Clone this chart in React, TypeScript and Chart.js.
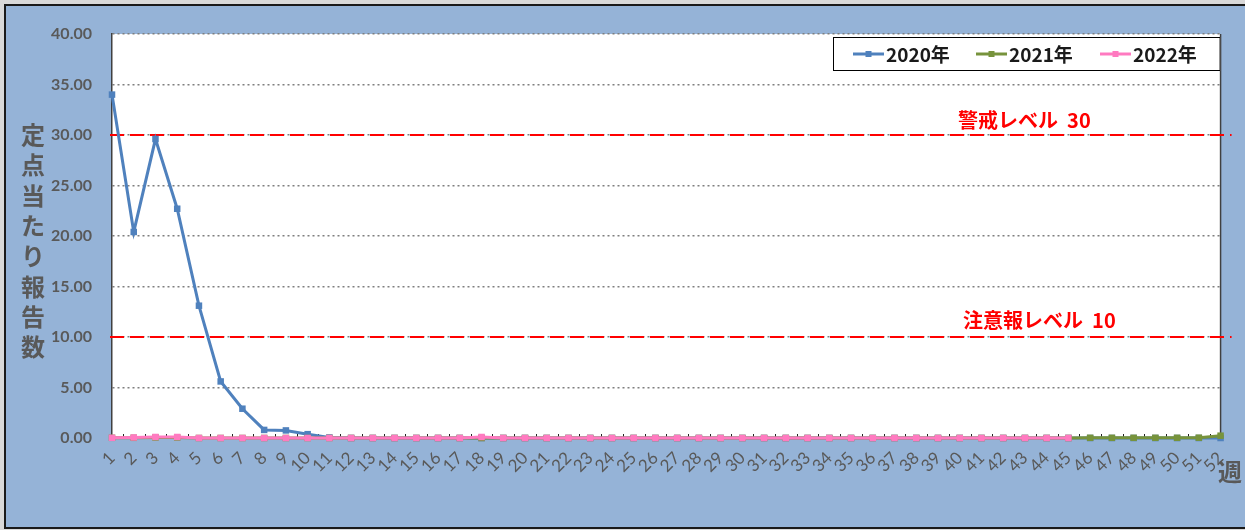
import React, { useEffect, useRef } from 'react';
import { Chart, registerables } from 'chart.js';

Chart.register(...registerables);

const WEEKS = [
  '1', '2', '3', '4', '5', '6', '7', '8', '9', '10', '11', '12', '13',
  '14', '15', '16', '17', '18', '19', '20', '21', '22', '23', '24', '25', '26',
  '27', '28', '29', '30', '31', '32', '33', '34', '35', '36', '37', '38', '39',
  '40', '41', '42', '43', '44', '45', '46', '47', '48', '49', '50', '51', '52',
];

const SERIES_NAMES = ['2020年', '2021年', '2022年'];

const VALUES_2020 = [
  34.0, 20.4, 29.6, 22.7, 13.1, 5.6, 2.9, 0.8, 0.75, 0.38, 0.05, 0, 0,
  0, 0, 0, 0, 0, 0, 0, 0, 0, 0, 0, 0, 0,
  0, 0, 0, 0, 0, 0, 0, 0, 0, 0, 0, 0, 0,
  0, 0, 0, 0, 0, 0, 0, 0, 0, 0, 0, 0, 0,
];

const VALUES_2021 = [
  0.02, 0.02, 0.05, 0.05, 0, 0, 0, 0, 0, 0, 0, 0, 0,
  0, 0, 0, 0, 0, 0, 0, 0, 0, 0, 0, 0, 0,
  0, 0, 0, 0, 0, 0, 0, 0, 0, 0, 0, 0, 0,
  0, 0, 0, 0, 0, 0, 0.02, 0.02, 0.02, 0.02, 0.02, 0.03, 0.23,
];

const VALUES_2022 = [
  0.02, 0.05, 0.1, 0.1, 0, 0, 0, 0, 0, 0, 0, 0, 0,
  0, 0, 0, 0, 0.1, 0, 0, 0, 0, 0, 0, 0, 0,
  0, 0, 0, 0, 0, 0, 0, 0, 0, 0, 0, 0, 0,
  0, 0, 0, 0, 0, 0,
];

const Y_MIN = 0;
const Y_MAX = 40;
const Y_STEP = 5;

const LEVEL_VALUES = [30, 10];
const LEVEL_LABELS = ['警戒レベル  30', '注意報レベル  10'];

const Y_TITLE = '定点当たり報告数';
const X_UNIT = '週';

const COLORS = ['#4F81BD', '#77933C', '#FF7AC0'];
const BG = '#95B3D7';
const GRAY_TEXT = '#595959';
const CJK = '"Noto Sans CJK JP", "Noto Sans", sans-serif';
const LATIN = 'Lato, "Open Sans", sans-serif';

const decorPlugin = {
  id: 'decor',
  beforeDraw(chart: any) {
    const { ctx, chartArea: a, width, height } = chart;
    ctx.save();
    ctx.fillStyle = '#d9d9d9';
    ctx.fillRect(0, 0, width, height);
    ctx.fillStyle = BG;
    ctx.fillRect(5, 5, width - 5, height - 7);
    ctx.strokeStyle = '#1a1a1a';
    ctx.lineWidth = 2;
    ctx.beginPath();
    ctx.moveTo(width, 5);
    ctx.lineTo(5, 5);
    ctx.lineTo(5, height - 2);
    ctx.lineTo(width, height - 2);
    ctx.stroke();
    ctx.fillStyle = '#ffffff';
    ctx.fillRect(a.left, a.top, a.right - a.left, a.bottom - a.top);

    // vertical stacked y title
    ctx.fillStyle = GRAY_TEXT;
    ctx.font = `bold 24px ${CJK}`;
    ctx.textAlign = 'center';
    ctx.textBaseline = 'middle';
    const chars = Array.from(Y_TITLE);
    const startY = 135;
    const stepY = 30.3;
    chars.forEach((c, i) => ctx.fillText(c, 33, startY + i * stepY));

    // x unit
    ctx.font = `bold 24px ${CJK}`;
    ctx.fillText(X_UNIT, 1230, 472);
    ctx.restore();
  },
  beforeDatasetsDraw(chart: any) {
    const { ctx, chartArea: a, scales } = chart;
    const x = scales.x;
    const y = scales.y;
    ctx.save();
    // right border
    ctx.strokeStyle = '#404040';
    ctx.lineWidth = 1.5;
    ctx.beginPath();
    ctx.moveTo(a.right, a.top);
    ctx.lineTo(a.right, a.bottom);
    ctx.stroke();

    // inner tick marks between categories
    ctx.strokeStyle = '#222';
    ctx.lineWidth = 1;
    ctx.beginPath();
    for (let i = 0; i < WEEKS.length - 1; i++) {
      const px = Math.round((x.getPixelForValue(i) + x.getPixelForValue(i + 1)) / 2) + 0.5;
      ctx.moveTo(px, a.bottom - 4);
      ctx.lineTo(px, a.bottom);
    }
    ctx.stroke();

    // level lines
    ctx.strokeStyle = '#FF0000';
    ctx.lineWidth = 2;
    ctx.setLineDash([14, 6]);
    LEVEL_VALUES.forEach((v) => {
      const py = y.getPixelForValue(v);
      ctx.beginPath();
      ctx.moveTo(a.left - 2, py);
      ctx.lineTo(a.right + 11, py);
      ctx.stroke();
    });
    ctx.setLineDash([]);

    ctx.fillStyle = '#FF0000';
    ctx.font = `bold 20px ${CJK}`;
    ctx.textAlign = 'left';
    ctx.textBaseline = 'middle';
    const textX = [958, 963];
    const textDy = [-15, -17];
    LEVEL_VALUES.forEach((v, i) => {
      ctx.fillText(LEVEL_LABELS[i], textX[i], y.getPixelForValue(v) + textDy[i]);
    });
    ctx.restore();
  },
  afterDraw(chart: any) {
    const { ctx, chartArea: a } = chart;
    ctx.save();
    const bx = 833;
    const by = 37;
    const bw = a.right - bx;
    const bh = 34;
    ctx.fillStyle = '#ffffff';
    ctx.fillRect(bx, by, bw, bh);
    ctx.strokeStyle = '#000';
    ctx.lineWidth = 1;
    ctx.strokeRect(bx + 0.5, by + 0.5, bw - 1, bh - 1);
    const itemX = [853, 976, 1100];
    const cy = by + bh / 2;
    ctx.font = `bold 19px ${CJK}`;
    ctx.textBaseline = 'middle';
    ctx.textAlign = 'left';
    chart.data.datasets.forEach((ds: any, i: number) => {
      const lx = itemX[i];
      ctx.strokeStyle = ds.borderColor;
      ctx.lineWidth = 3;
      ctx.beginPath();
      ctx.moveTo(lx, cy);
      ctx.lineTo(lx + 31, cy);
      ctx.stroke();
      ctx.fillStyle = ds.borderColor;
      ctx.fillRect(lx + 15.5 - 3, cy - 3, 6, 6);
      ctx.fillStyle = '#1a1a1a';
      ctx.fillText(ds.label, lx + 33, cy + 1);
    });
    ctx.restore();
  },
};

export default function App() {
  const canvasRef = useRef<HTMLCanvasElement | null>(null);

  useEffect(() => {
    document.body.style.margin = '0';
    const canvas = canvasRef.current;
    if (!canvas) return;
    const seriesValues = [VALUES_2020, VALUES_2021, VALUES_2022];
    const orders = [3, 2, 1];
    const chart = new Chart(canvas, {
      type: 'line',
      data: {
        labels: WEEKS,
        datasets: SERIES_NAMES.map((name, i) => ({
          label: name,
          data: seriesValues[i],
          borderColor: COLORS[i],
          backgroundColor: COLORS[i],
          pointBackgroundColor: COLORS[i],
          pointBorderColor: COLORS[i],
          borderWidth: 3,
          pointStyle: 'rect',
          pointRadius: 4.6,
          pointBorderWidth: 0,
          tension: 0,
          fill: false,
          clip: false,
          order: orders[i],
        })),
      },
      options: {
        responsive: false,
        animation: false,
        layout: { padding: { top: 34, right: 23, left: 0, bottom: 0 } },
        plugins: {
          legend: { display: false },
          tooltip: { enabled: false },
          title: { display: false },
        },
        scales: {
          x: {
            type: 'category',
            offset: false,
            grid: { display: false, drawTicks: false },
            border: { display: true, color: '#404040', width: 1.5 },
            ticks: {
              autoSkip: false,
              minRotation: 45,
              maxRotation: 45,
              padding: 10,
              color: GRAY_TEXT,
              font: { family: LATIN, size: 17 },
            },
            afterFit(scale: any) {
              scale.height = 92;
            },
          },
          y: {
            min: Y_MIN,
            max: Y_MAX,
            ticks: {
              stepSize: Y_STEP,
              padding: 20,
              color: GRAY_TEXT,
              font: { family: LATIN, size: 16, weight: 'bold' },
              callback: (v: any) => Number(v).toFixed(2),
            },
            grid: { color: '#7f7f7f', lineWidth: 1.5, drawTicks: false },
            border: { display: true, color: '#404040', width: 1.5, dash: [2, 3] },
            afterFit(scale: any) {
              scale.width = 112;
            },
          },
        },
      },
      plugins: [decorPlugin],
    } as any);
    return () => chart.destroy();
  }, []);

  return (
    <div style={{ width: 1245, height: 530 }}>
      <canvas ref={canvasRef} width={1245} height={530} style={{ display: 'block' }} />
    </div>
  );
}
